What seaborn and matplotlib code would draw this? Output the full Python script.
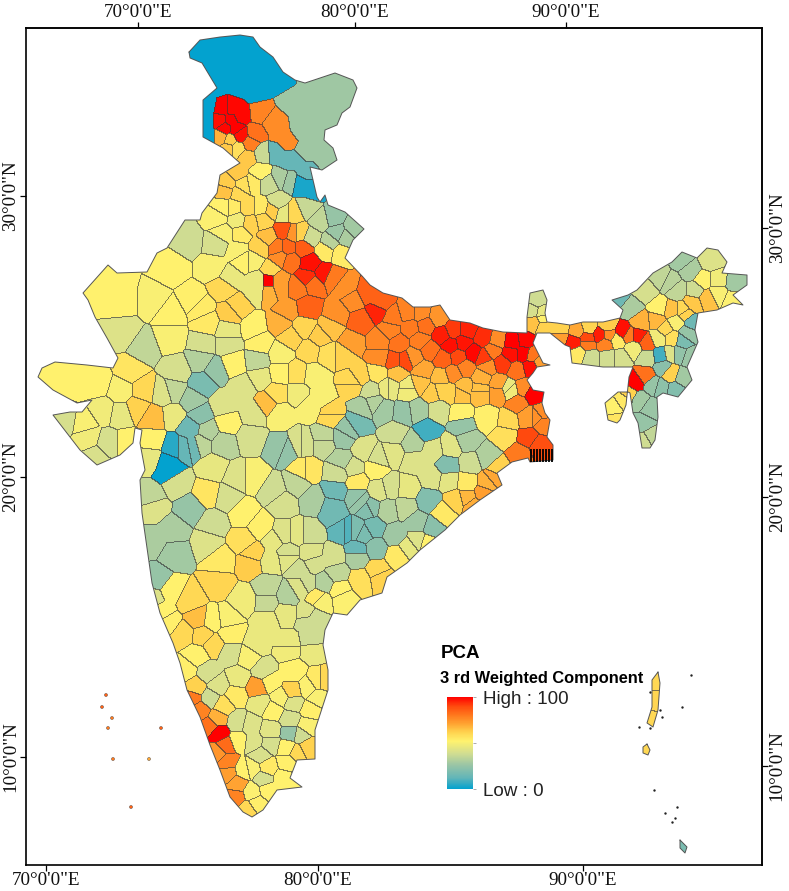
import numpy as np
import matplotlib
matplotlib.use("Agg")
import matplotlib.pyplot as plt
from matplotlib.colors import LinearSegmentedColormap, ListedColormap
from matplotlib.path import Path
import seaborn as sns

# ---- map geometry, in map units ----
india_outline = [(189,52),(200,40),(220,37),(240,35),(253,37),(260,47),(273,57),(283,72),(295,80),(305,83),(320,78),(335,73),(353,80),(357,88),(350,107),(342,113),(337,125),(325,130),(324,140),(333,148),(337,160),(322,170),(310,167),(317,197),(320,202),(325,195),(328,205),(345,212),(364,229),(353,240),(345,258),(363,277),(370,285),(383,293),(402,298),(413,307),(430,307),(440,305),(450,320),(470,323),(483,328),(503,332),(527,333),(527,317),(530,293),(543,290),(547,300),(545,313),(547,322),(557,323),(570,325),(583,322),(603,322),(620,318),(623,310),(612,300),(628,295),(637,290),(653,273),(672,262),(682,252),(697,258),(707,248),(718,250),(727,262),(722,273),(747,275),(747,285),(733,295),(743,305),(733,303),(717,310),(698,313),(695,330),(698,342),(687,367),(692,380),(678,397),(663,393),(657,397),(658,417),(655,440),(650,448),(642,448),(638,423),(633,413),(630,393),(628,392),(618,392),(605,403),(608,420),(617,423),(620,420),(626,405),(629,377),(633,367),(603,367),(572,363),(570,347),(565,345),(550,333),(540,333),(537,333),(533,343),(543,363),(550,365),(537,367),(533,373),(527,380),(533,390),(544,392),(542,403),(545,413),(550,420),(547,437),(553,445),(553,460),(530,462),(528,458),(512,462),(497,473),(502,485),(480,500),(460,515),(445,530),(420,550),(407,563),(387,577),(382,593),(360,600),(347,615),(333,613),(325,630),(323,645),(328,670),(328,690),(315,730),(315,759),(297,760),(290,778),(302,787),(277,790),(263,810),(252,817),(243,812),(230,797),(220,770),(210,745),(200,717),(187,690),(180,663),(173,643),(160,613),(152,583),(142,513),(140,480),(145,470),(140,443),(142,430),(135,428),(133,443),(120,455),(97,465),(80,450),(63,428),(53,415),(70,412),(82,412),(92,400),(77,403),(53,390),(38,377),(42,368),(55,362),(87,365),(113,368),(118,358),(107,338),(95,317),(88,300),(83,293),(108,265),(117,273),(147,272),(157,253),(167,248),(185,220),(200,220),(202,213),(217,193),(220,175),(240,163),(223,148),(203,137),(203,100),(217,88),(202,63),(190,58)]
andaman = [(658,672),(660,683),(658,710),(653,727),(647,723),(652,707),(652,680)]
little_andaman = [(647,744),(650,750),(648,755),(643,753),(643,747)]
great_nicobar = [(680,840),(687,847),(685,853),(680,848)]

# ---- district samples: (map x, map y, component value) ----
north = [(233,63,0),(220,55,0),(250,50,0),(265,70,0),(240,85,0),(215,85,0),(280,80,0),(207,105,0),(206,120,0),(208,137,0),(255,90,0),
 (222,108,100),(232,108,99),(220,120,98),(230,120,100),(240,115,99),(235,128,100),(225,127,99),(240,135,98),
 (260,113,78),(255,133,82),(280,133,76),(287,140,76),(272,122,76),
 (307,113,27),(320,87,27),(335,90,27),(340,100,27),(310,90,27),(300,130,27),(305,150,27),(325,155,27),(318,130,27),(330,110,27),(292,100,27),
 (220,137,68),(230,140,63),(237,148,58),(247,157,64),(228,148,64),(250,143,79),
 (262,153,37),(275,152,13),(287,160,13),(295,160,13),(305,172,13),(307,187,3),(300,182,3),(312,190,3),(260,172,52),(280,177,30),(268,183,37),(290,180,27),
 (227,183,63),(237,172,64),(225,190,65),(243,185,58),(253,183,55),(238,193,60)]
hills = [(277,202,40),(307,207,36),(333,217,25),(353,228,28),(320,220,35),(337,233,26),(310,237,38),(330,242,33),(345,237,30),(283,213,45),
 (223,207,52),(217,217,51),(233,207,54),(247,207,60),(223,233,50),(237,220,48),(250,223,62),(263,220,61),(260,207,55),(272,210,63),(293,213,60),(300,233,62)]
west_up = [(283,230,88),(287,247,84),(303,247,86),(310,263,98),(323,273,97),(307,277,94),(293,233,74),(277,247,80),(290,260,82),(280,257,76),(297,287,80),(280,287,72),(313,283,82),(332,277,80),(345,287,75),(367,293,85),(380,303,85),(353,300,76),(325,250,55),(340,253,54),(268,280,100),(270,270,60),(253,260,50),(260,247,62),(268,237,66),(240,233,55),(237,250,50),(243,260,52),(259,280,46),(278,280,72),(268,291,68)]
rajasthan = [(170,267,52),(213,267,50),(187,240,38),(217,243,40),(117,290,52),(120,300,52),(100,290,52),(153,300,50),(193,300,53),(230,277,46),(223,287,60),(257,290,46),(237,307,62),
 (123,333,42),(143,347,35),(170,313,52),(170,337,50),(200,307,54),(230,313,63),(207,323,55),(227,330,45),(253,327,52),(203,343,40),(227,343,41),(260,343,53),(280,323,68),(290,337,62),(303,327,61),(320,337,63),(330,328,65),(350,343,72),(337,313,75),(307,307,85),(287,310,72),(360,320,85),(377,310,95)]
gujarat = [(77,380,52),(60,378,52),(97,383,52),(130,370,56),(120,390,50),(143,390,60),(137,407,62),(153,417,66),(163,393,42),(177,370,40),(65,420,40),(83,423,50),(103,410,48),(120,413,45),(87,437,48),(108,443,40),(125,443,52),(95,457,41),(152,440,52),(150,457,45)]
central_w = [(202,383,18),(215,370,25),(200,360,32),(173,390,35),(192,400,28),(200,415,22),(190,428,15),(173,447,5),(183,447,13),(167,463,0),(169,470,0),(193,445,15),(173,415,46),(207,430,32),(223,405,42),(227,422,52),(243,387,42),(257,360,35),(233,363,52),(277,393,58),(267,403,66),(280,413,50),(253,413,42),(250,437,40),(223,443,33),(200,443,34),(280,448,25),(303,443,40),(323,437,35),(347,430,25),(357,423,17),(330,415,60),(297,393,48),(320,397,50),(353,382,60),(297,373,58),(313,375,50),(280,373,52),(260,377,45),(280,353,50),(310,350,60),(327,353,58),(343,353,62),(360,377,62),(373,403,32),(363,407,30)]
maharashtra = [(213,467,45),(207,493,56),(177,483,40),(150,497,35),(153,507,42),(190,508,25),(173,530,30),(213,523,38),(227,497,40),(237,477,42),(253,477,50),(243,513,52),(260,527,53),(243,540,58),(253,553,62),(207,543,42),(175,553,28),(153,540,30),(303,470,55),(297,483,35),(283,503,40),(273,490,38),(337,473,38),(313,500,30),(332,507,16),(343,530,12),(357,497,24),(370,507,22),(363,533,18),(310,533,38),(297,533,44),(283,533,42),(273,540,45),(287,553,40),(310,553,42),(333,557,40),(250,563,63),(270,560,45),(220,560,55),(357,557,30)]
east_central = [(343,437,26),(323,443,36),(300,443,41),(307,470,56),(285,450,24),(383,410,28),(403,412,25),(417,410,29),(427,430,8),(395,433,38),(412,443,32),(438,410,40),(460,413,52),(487,417,53),(508,420,60),(462,425,25),(467,440,30),(487,457,31),(470,463,38),(447,465,20),(433,450,42),(450,447,43),(413,460,42),(393,453,43),(378,458,40),(363,450,42),(375,468,52),(357,482,55),(342,460,32),(353,467,40),(335,490,15),(333,513,16),(345,530,10),(357,530,19),(360,500,25),(373,527,17),(368,508,20),(375,548,22),(357,550,14),(395,535,27),(387,510,32),(378,490,42),(390,487,40),(407,488,45),(405,507,35),(428,500,20),(417,522,27),(432,527,22),(443,513,55),(432,477,42),(448,480,44),(467,482,55),(487,482,68),(493,477,70),(483,493,72),(467,497,67),(455,500,62),(473,505,69),
 (497,468,62),(505,435,58),(520,453,80),(528,438,90),(538,445,89),(527,417,72),(543,423,78),(517,403,78),(535,393,100),(542,413,76),(480,393,66),(497,393,72),(510,390,48),(460,393,65),(440,390,62),(420,383,65),(407,390,48),(390,387,45),(353,385,61),(370,390,38),(330,413,61),(310,407,50)]
coast = [(397,555,55),(377,570,60),(360,580,58),(380,577,62),(340,590,52),(317,597,55),(313,617,38),(307,613,42),(285,613,45),(312,638,38),(287,643,46),(417,540,42),(427,543,52),(408,547,45),(337,572,35),(323,583,32),(300,587,42),(313,563,40),(300,570,38),(287,557,43)]
gangetic = [(393,317,80),(407,313,78),(420,313,76),(438,317,74),(425,325,82),(453,330,92),(467,330,95),(483,337,94),(442,335,96),(450,345,98),(463,342,97),(473,353,99),(458,357,90),(483,357,92),(443,358,85),(430,350,82),(398,343,81),(410,327,80),(390,330,78),(380,340,77),(380,357,76),(405,360,90),(393,360,88),(420,340,79),(413,357,74),(423,370,70),(440,377,66),(453,373,76),(465,367,78),(397,373,65),(377,373,56),(387,387,46),(407,387,47),(433,392,63),(450,392,62),(463,387,66),(482,377,68),(480,390,65),(498,383,71),(508,388,46),(487,367,75),(502,363,92),(493,350,80),(497,340,76),(512,342,100),(525,340,99),(510,353,98),(523,353,100),(530,367,98),(517,370,82),(540,362,72),(532,355,81),(533,393,100),(517,403,77),(537,417,75),(523,387,76)]
northeast = [(537,300,38),(532,310,40),(542,312,45),(533,323,65),(543,327,62),(543,318,52),(560,328,62),(560,338,72),(577,330,70),(588,327,61),(573,342,96),(587,338,90),(600,335,96),(608,335,76),(605,343,78),(587,343,80),(607,325,63),(623,332,98),(628,335,80),(637,335,96),(647,342,85),(640,322,68),(657,320,67),(670,310,65),(683,310,60),(692,303,64),(707,298,65),(717,293,50),(733,300,51),
 (657,338,48),(665,328,60),(675,322,50),(672,338,58),(685,313,62),
 (578,353,55),(590,357,38),(607,357,39),(620,357,40),(633,348,48),(647,357,37),(660,355,8),(617,340,55),
 (630,308,30),(618,298,15),(645,290,40),(660,277,35),(660,308,52),(682,260,28),(690,270,30),(710,260,42),(703,280,52),(735,282,28),(677,290,35),(695,290,38),(717,280,48),(670,282,33),
 (692,322,15),(687,333,25),(682,340,18),(678,353,24),(690,357,26),(670,353,42),(663,367,22),(660,387,23),(670,373,62),(675,390,20),(683,377,28),(653,385,25),
 (645,375,82),(635,382,100),(613,407,52),(623,400,55),(628,393,62),(615,420,56),(640,400,28),(650,407,26),(642,423,25),(650,437,35),(645,440,38)]
south = [(157,580,25),(170,590,52),(153,597,42),(190,600,60),(218,583,61),(243,600,48),(267,587,35),(287,595,32),(267,602,36),(307,583,38),(320,600,50),(343,597,51),(267,620,46),(308,620,38),(197,618,66),(162,612,52),(168,622,53),(183,633,60),(202,635,61),(212,620,52),(227,618,50),(230,633,53),(213,645,60),(197,655,52),(185,670,53),(230,653,40),(257,643,46),(248,657,50),(287,648,48),(313,650,46),(208,672,40),(218,685,42),(238,677,46),(263,670,41),(293,672,52),(317,680,55),(195,687,62),(235,695,55),(257,687,72),(270,682,52),(292,690,62),(280,697,50),(307,687,51),(323,680,60),(192,697,80),(200,710,78),(210,698,38),(223,705,58),(217,718,68),(210,725,82),(219,733,100),(225,745,83),(218,752,74),(227,762,78),(228,773,72),(237,783,71),(235,797,78),(247,810,60),(238,740,52),(250,725,42),(237,722,40),(260,703,45),(273,710,52),(293,703,42),(310,710,53),(317,697,50),(290,718,40),(270,730,43),(290,733,25),(307,725,50),(300,735,38),(253,742,42),(270,743,40),(307,747,62),(297,752,60),(287,747,52),(260,755,41),(252,768,50),(243,770,52),(267,767,55),(287,762,53),(263,778,40),(283,778,52),(252,792,51),(267,790,52),(257,803,53)]
islands = [(656,680,60),(655,700,61),(650,720,60),(646,750,60),(683,846,18)]
lakshadweep_x = [106,102,112,108,161,113,149,131]
lakshadweep_y = [695,707,718,728,728,759,759,807]
lakshadweep_v = [85,85,80,80,85,80,70,85]
dark_islet_x = [650,660,662,650,639,691,682,665,672,675,677,654]
dark_islet_y = [692,710,717,728,727,675,707,813,822,818,807,790]
sundarban_x = [531,534,537,540,543,546,549,552]

# ---- axes labels ----
top_ticks = [138,355,566]
bottom_ticks = [46,318,583]
left_ticks = [196,477,757]
right_ticks = [228,497,766]
lon_labels = ['70°0\'0"E','80°0\'0"E','90°0\'0"E']
lat_labels = ['30°0\'0"N','20°0\'0"N','10°0\'0"N']

W, H = 789, 891
sns.set_theme(style="white")
plt.rcParams['font.family'] = ['Liberation Sans', 'DejaVu Sans']

cmap = LinearSegmentedColormap.from_list("pca", [
    (0.00,"#03a2cf"),(0.12,"#62b5b8"),(0.26,"#9ac5a5"),(0.38,"#cfdc92"),(0.52,"#fff26e"),
    (0.62,"#ffd24e"),(0.70,"#ffa834"),(0.80,"#ff7a1e"),(0.90,"#ff4a0e"),(1.00,"#ff0000")])

seeds = np.array(north+hills+west_up+rajasthan+gujarat+central_w+maharashtra+east_central+coast+gangetic+northeast+south+islands, dtype=np.float32)

yy, xx = np.mgrid[0:H, 0:W]
pts = np.column_stack([xx.ravel()+0.5, yy.ravel()+0.5])
inside = np.zeros(H*W, dtype=bool)
for poly in (india_outline, andaman, little_andaman, great_nicobar):
    inside |= Path(poly+[poly[0]]).contains_points(pts)
p = pts[inside].astype(np.float32)
best = np.full(len(p), np.inf, dtype=np.float32)
val = np.zeros(len(p), dtype=np.float32)
for sx, sy, sv in seeds:
    d = (p[:,0]-sx)**2 + (p[:,1]-sy)**2
    m = d < best
    best[m] = d[m]; val[m] = sv
grid = np.full(H*W, np.nan)
grid[inside] = val
grid = grid.reshape(H, W)

edge = np.zeros((H, W), dtype=bool)
same_valid = ~np.isnan(grid[:,1:]) & ~np.isnan(grid[:,:-1])
edge[:,1:] |= same_valid & (grid[:,1:] != grid[:,:-1])
same_valid = ~np.isnan(grid[1:,:]) & ~np.isnan(grid[:-1,:])
edge[1:,:] |= same_valid & (grid[1:,:] != grid[:-1,:])

fig = plt.figure(figsize=(W/100, H/100), dpi=100, facecolor="white")
def box(x0, y0, x1, y1):
    return [x0/W, 1-y1/H, (x1-x0)/W, (y1-y0)/H]
ax = fig.add_axes(box(26,28,762,865))
cax = fig.add_axes(box(447,697,473,789))

sns.heatmap(grid, ax=ax, cmap=cmap, vmin=0, vmax=100, cbar=True, cbar_ax=cax,
            cbar_kws={"ticks":[0,50,100]}, xticklabels=False, yticklabels=False, linewidths=0)
cbar = ax.collections[0].colorbar
cbar.set_ticklabels(["Low : 0","","High : 100"], fontsize=13.6, color="#222222", family="Liberation Sans")
cbar.ax.tick_params(length=2.5, width=0.5, color="#888888", pad=5)
cbar.outline.set_visible(False)

sns.heatmap(np.where(edge, 1.0, np.nan), ax=ax, cmap=ListedColormap(["#3a3a3a"]), alpha=0.65,
            cbar=False, xticklabels=False, yticklabels=False, linewidths=0)

for poly in (india_outline, andaman, little_andaman, great_nicobar):
    a = np.array(poly+[poly[0]])
    ax.plot(a[:,0], a[:,1], color="#555555", lw=0.7)
ax.vlines(sundarban_x, 449, 462, color="black", lw=1.3)
sns.scatterplot(x=lakshadweep_x, y=lakshadweep_y, hue=lakshadweep_v, hue_norm=(0,100), palette=cmap,
                s=5, edgecolor="#444444", linewidth=0.3, legend=False, ax=ax)
sns.scatterplot(x=dark_islet_x, y=dark_islet_y, color="#222222", s=3, linewidth=0, legend=False, ax=ax)

ax.set_xlim(26,762); ax.set_ylim(865,28)
for s in ax.spines.values():
    s.set_visible(True); s.set_color("black"); s.set_linewidth(1.2)

serif = "Liberation Serif"
fs = 13.8
ax.set_xticks(bottom_ticks); ax.set_xticklabels(lon_labels, family=serif, fontsize=fs, color="#111111")
ax.set_yticks(left_ticks); ax.set_yticklabels(lat_labels, family=serif, fontsize=fs, color="#111111", rotation=90, va="center")
ax.tick_params(axis="both", length=4.3, width=0.9, color="black", pad=0.5, bottom=True, left=True)
sec = ax.secondary_xaxis("top"); sec.set_xticks(top_ticks); sec.set_xticklabels(lon_labels, family=serif, fontsize=fs, color="#111111")
sec.tick_params(length=4.3, width=0.9, color="black", pad=0.5)
sec.spines["top"].set_linewidth(1.2)
sey = ax.secondary_yaxis("right"); sey.set_yticks(right_ticks); sey.set_yticklabels(lat_labels, family=serif, fontsize=fs, color="#111111", rotation=90, va="center")
sey.tick_params(length=4.3, width=0.9, color="black", pad=0.5)
sey.spines["right"].set_linewidth(1.2)

fig.text(441/W, 1-654/H, "PCA", fontweight="bold", fontsize=13.5, color="black", va="center", family="Liberation Sans")
fig.text(440/W, 1-678/H, "3 rd Weighted Component", fontweight="bold", fontsize=11.8, color="black", va="center", family="Liberation Sans")

fig.savefig("out.png", dpi=100, facecolor="white")
